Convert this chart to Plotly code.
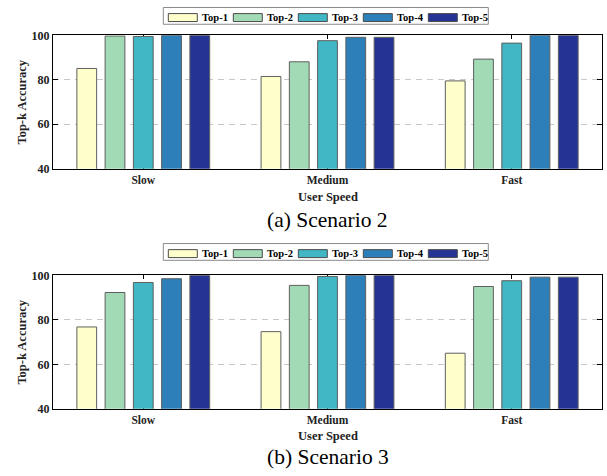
import plotly.graph_objects as go

# ---- data ----
speeds = ["Slow", "Medium", "Fast"]
series = ["Top-1", "Top-2", "Top-3", "Top-4", "Top-5"]
colors = ["#FFFFCC", "#A1DAB4", "#41B6C4", "#2C7FB8", "#253494"]

# Scenario 2 top-k accuracy (%) per user speed
s2_top1 = [85.1, 81.5, 79.5]
s2_top2 = [99.7, 88.1, 89.3]
s2_top3 = [99.5, 97.6, 96.5]
s2_top4 = [100.0, 99.1, 100.0]
s2_top5 = [100.0, 99.1, 100.0]

# Scenario 3 top-k accuracy (%) per user speed
s3_top1 = [76.8, 74.7, 65.0]
s3_top2 = [92.3, 95.5, 95.0]
s3_top3 = [96.8, 99.5, 97.6]
s3_top4 = [98.5, 100.0, 99.2]
s3_top5 = [100.0, 100.0, 99.2]

y_ticks = [40, 60, 80, 100]
captions = ["(a) Scenario 2", "(b) Scenario 3"]

W, H = 607, 476
SERIF = '"Times New Roman", "Liberation Serif", Tinos, serif'


def px(x):
    return x / W


def py(y):
    return 1 - y / H


x_dom = [px(53), px(602)]
# vertical layout of each panel (pixels from the top of the figure)
panels = [
    dict(top=29.2, bottom=166.6, speed=195.3, caption=219.2, legend=0.5,
         values=[s2_top1, s2_top2, s2_top3, s2_top4, s2_top5]),
    dict(top=276.5, bottom=414.0, speed=441.5, caption=464.0, legend=243.7,
         values=[s3_top1, s3_top2, s3_top3, s3_top4, s3_top5]),
]

fig = go.Figure()
shapes = []
annotations = []

for i, p in enumerate(panels):
    n = i + 1
    xa = "x" if n == 1 else f"x{n}"
    ya = "y" if n == 1 else f"y{n}"
    for name, col, vals in zip(series, colors, p["values"]):
        fig.add_trace(go.Bar(
            x=speeds, y=vals, name=name, xaxis=xa, yaxis=ya,
            marker=dict(color=col, line=dict(color="#5f5f5f", width=1)),
            showlegend=False,
        ))

    common_line = dict(showline=True, linecolor="black", linewidth=1,
                       mirror="ticks", ticks="inside", tickcolor="black",
                       layer="below traces")
    fig.update_layout(**{
        ("xaxis" if n == 1 else f"xaxis{n}"): dict(
            domain=x_dom, anchor=ya, type="category",
            range=[-0.49, 2.49], autorange=False, ticklen=4,
            showgrid=False, zeroline=False,
            tickfont=dict(family=SERIF, size=11.5, color="#222", weight="bold"),
            **common_line),
        ("yaxis" if n == 1 else f"yaxis{n}"): dict(
            domain=[py(p["bottom"]), py(p["top"])], anchor=xa,
            range=[40, 100], autorange=False, tickvals=y_ticks, ticklen=5,
            showgrid=True, gridcolor="#c8c8c8", griddash="6px,5px", gridwidth=1,
            zeroline=False,
            tickfont=dict(family=SERIF, size=12, color="#222", weight="bold"),
            **common_line),
    })

    # axis titles and caption
    mid_x = (53 + 602) / 2
    annotations.append(dict(
        text="Top-k Accuracy", x=px(22.5), y=py((p["top"] + p["bottom"]) / 2),
        xref="paper", yref="paper", textangle=-90, showarrow=False,
        xanchor="center", yanchor="middle",
        font=dict(family=SERIF, size=12.5, color="#222", weight="bold")))
    annotations.append(dict(
        text="User Speed", x=px(mid_x), y=py(p["speed"]),
        xref="paper", yref="paper", showarrow=False,
        xanchor="center", yanchor="middle",
        font=dict(family=SERIF, size=12.5, color="#222", weight="bold")))
    annotations.append(dict(
        text=captions[i], x=px(mid_x), y=py(p["caption"]),
        xref="paper", yref="paper", showarrow=False,
        xanchor="center", yanchor="middle",
        font=dict(family=SERIF, size=21.5, color="black")))

    # legend box above the panel
    box_top = p["legend"]
    box_bot = box_top + 17.3
    shapes.append(dict(type="rect", xref="paper", yref="paper",
                       x0=px(163.3), x1=px(488.3), y0=py(box_bot), y1=py(box_top),
                       line=dict(color="#8a8a8a", width=1), fillcolor="white"))
    for k, (name, col) in enumerate(zip(series, colors)):
        sx = 168.3 + 65 * k
        shapes.append(dict(type="rect", xref="paper", yref="paper",
                           x0=px(sx), x1=px(sx + 29), y0=py(box_top + 14.5),
                           y1=py(box_top + 6.3),
                           line=dict(color="#4a4a4a", width=1), fillcolor=col))
        annotations.append(dict(
            text=name, x=px(sx + 31.5), y=py(box_top + 10.4),
            xref="paper", yref="paper", showarrow=False,
            xanchor="left", yanchor="middle",
            font=dict(family=SERIF, size=10.5, color="black", weight="bold")))

fig.update_layout(
    width=W, height=H, margin=dict(l=0, r=0, t=0, b=0),
    paper_bgcolor="white", plot_bgcolor="white",
    barmode="group", bargap=0.233, bargroupgap=0.3,
    shapes=shapes, annotations=annotations, showlegend=False,
)

fig.write_html("out.html")
